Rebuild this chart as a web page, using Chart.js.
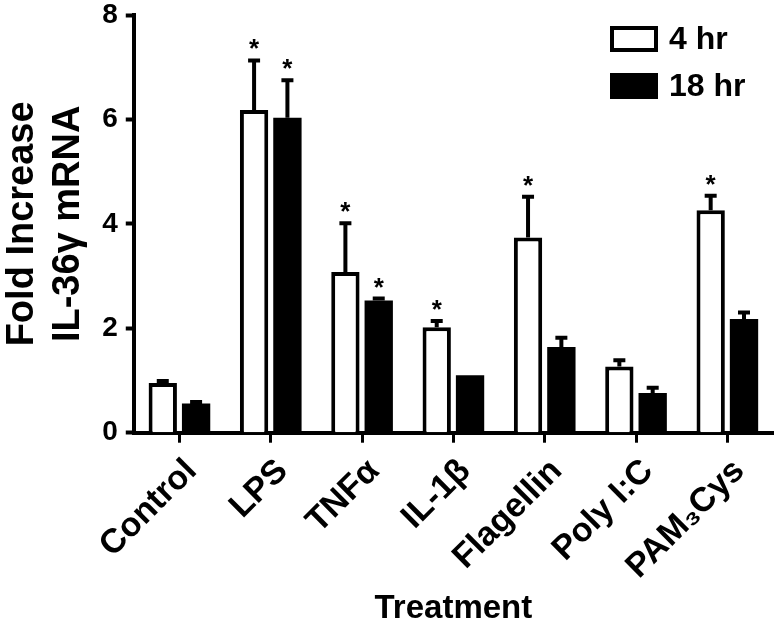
<!DOCTYPE html>
<html lang="en">
<head>
    <meta charset="UTF-8">
    <title>IL-36γ mRNA fold increase</title>
    <script src="https://cdn.jsdelivr.net/npm/chart.js@4.4.1/dist/chart.umd.min.js"></script>
    <style>
        body { margin: 0; background: #fff; }
    </style>
</head>
<body>
    <canvas id="myChart" width="776" height="622"></canvas>
<script>
    // values
    const treatments = ['Control', 'LPS', 'TNFα', 'IL-1β', 'Flagellin', 'Poly I:C', 'PAM₃Cys'];
    const hr4 = [0.95, 6.18, 3.08, 2.02, 3.74, 1.27, 4.26];
    const hr4Err = [0.04, 0.95, 0.93, 0.12, 0.78, 0.12, 0.28];
    const hr18 = [0.56, 6.03, 2.53, 1.10, 1.64, 0.76, 2.18];
    const hr18Err = [0.03, 0.72, 0.04, 0.00, 0.18, 0.10, 0.12];
    // significance markers
    const sig4 = [false, true, true, true, true, false, true];
    const sig18 = [false, true, true, false, false, false, false];
    const yTicks = [0, 2, 4, 6, 8];

    const FONT = '"Liberation Sans", Arial, Helvetica, sans-serif';

    // draws upward error bars and asterisks
    const errorBars = {
        id: 'errorBars',
        afterDatasetsDraw(chart) {
            const ctx = chart.ctx;
            const y = chart.scales.y;
            chart.data.datasets.forEach((ds, i) => {
                const meta = chart.getDatasetMeta(i);
                meta.data.forEach((bar, j) => {
                    const top = y.getPixelForValue(ds.data[j] + ds.err[j]);
                    ctx.save();
                    ctx.strokeStyle = '#000';
                    ctx.lineWidth = 4;
                    if (ds.err[j] > 0) {
                        ctx.beginPath();
                        ctx.moveTo(bar.x, bar.y);
                        ctx.lineTo(bar.x, top);
                        ctx.moveTo(bar.x - 6, top);
                        ctx.lineTo(bar.x + 6, top);
                        ctx.stroke();
                    }
                    if (ds.sig[j]) {
                        ctx.fillStyle = '#000';
                        ctx.font = 'bold 26px ' + FONT;
                        ctx.textAlign = 'center';
                        ctx.textBaseline = 'alphabetic';
                        ctx.fillText('*', bar.x, top - 3);
                    }
                    ctx.restore();
                });
            });
        }
    };

    // legend boxes stacked in the top right corner
    const boxLegend = {
        id: 'boxLegend',
        afterDraw(chart) {
            const ctx = chart.ctx;
            const area = chart.chartArea;
            const x = area.right - 163;
            chart.data.datasets.forEach((ds, i) => {
                const top = area.top + 11 + i * 47;
                ctx.save();
                ctx.fillStyle = ds.backgroundColor;
                ctx.fillRect(x, top, 48, 26);
                ctx.strokeStyle = '#000';
                ctx.lineWidth = 4;
                ctx.strokeRect(x + 2, top + 2, 44, 22);
                ctx.fillStyle = '#000';
                ctx.font = 'bold 32px ' + FONT;
                ctx.textBaseline = 'middle';
                ctx.textAlign = 'left';
                ctx.fillText(ds.label, x + 59, top + 14);
                ctx.restore();
            });
        }
    };

    const ctx = document.getElementById('myChart').getContext('2d');
    new Chart(ctx, {
        type: 'bar',
        data: {
            labels: treatments,
            datasets: [{
                label: '4 hr',
                data: hr4,
                err: hr4Err,
                sig: sig4,
                backgroundColor: '#ffffff',
                borderColor: '#000000',
                borderWidth: 4,
                categoryPercentage: 0.73,
                barPercentage: 0.85
            }, {
                label: '18 hr',
                data: hr18,
                err: hr18Err,
                sig: sig18,
                backgroundColor: '#000000',
                borderColor: '#000000',
                borderWidth: 0,
                categoryPercentage: 0.73,
                barPercentage: 0.85
            }]
        },
        options: {
            responsive: false,
            animation: false,
            layout: { padding: { top: 0, right: 3, left: 0, bottom: 0 } },
            plugins: {
                legend: { display: false },
                tooltip: { enabled: false }
            },
            scales: {
                x: {
                    grid: {
                        offset: false,
                        drawOnChartArea: false,
                        drawTicks: true,
                        tickLength: 10,
                        tickWidth: 3,
                        color: '#000'
                    },
                    border: { display: true, width: 4, color: '#000' },
                    ticks: {
                        minRotation: 45,
                        maxRotation: 45,
                        color: '#000',
                        padding: 14,
                        labelOffset: 12,
                        font: { family: FONT, size: 34, weight: 'bold', lineHeight: 0.75 }
                    },
                    title: {
                        display: true,
                        text: 'Treatment',
                        color: '#000',
                        padding: { top: 0, bottom: 0 },
                        font: { family: FONT, size: 33, weight: 'bold', lineHeight: 0.8 }
                    }
                },
                y: {
                    min: 0,
                    max: 8,
                    afterBuildTicks(axis) {
                        axis.ticks = yTicks.map(v => ({ value: v }));
                    },
                    grid: {
                        drawOnChartArea: false,
                        drawTicks: true,
                        tickLength: 8,
                        tickWidth: 4,
                        color: '#000'
                    },
                    border: { display: true, width: 4, color: '#000' },
                    ticks: {
                        color: '#000',
                        padding: 8,
                        font: { family: FONT, size: 28, weight: 'bold', lineHeight: 0.5 }
                    },
                    title: {
                        display: true,
                        text: ['Fold Increase', 'IL-36γ mRNA'],
                        color: '#000',
                        padding: { top: 0, bottom: 3 },
                        font: { family: FONT, size: 38, weight: 'bold', lineHeight: 1.2 }
                    }
                }
            }
        },
        plugins: [errorBars, boxLegend]
    });
</script>
</body>
</html>
